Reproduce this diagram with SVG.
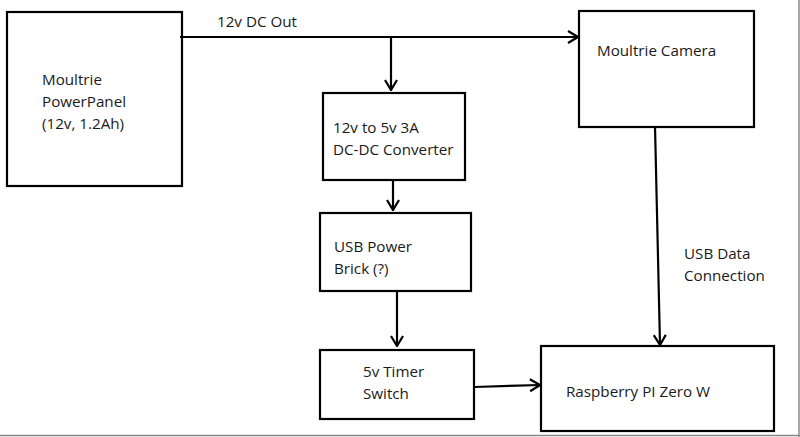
<svg xmlns="http://www.w3.org/2000/svg" width="800" height="437" viewBox="0 0 800 437">
<defs>
<style>
.box{fill:#fff;stroke:#000;stroke-width:2.2}
.t{font-family:"Open Sans","Liberation Sans",sans-serif;font-size:15.2px;fill:#1a1a1a}
.c{fill:none;stroke:#000;stroke-width:2.2}
</style>
<marker id="arr" viewBox="0 0 12 14" refX="11" refY="7" markerWidth="12" markerHeight="14" markerUnits="userSpaceOnUse" orient="auto">
<path d="M1,1 L11,7 L1,13" fill="none" stroke="#000" stroke-width="2.2"/>
</marker>
</defs>
<rect width="800" height="437" fill="#fff"/>
<line x1="0" y1="435.5" x2="800" y2="435.5" stroke="#888" stroke-width="1.5"/>
<line x1="799" y1="0" x2="799" y2="437" stroke="#888" stroke-width="1.5"/>
<g id="powerpanel">
<rect class="box" x="7" y="12" width="175" height="174"/>
<text class="t" x="42" y="85">Moultrie</text>
<text class="t" x="42" y="107">PowerPanel</text>
<text class="t" x="42" y="129">(12v, 1.2Ah)</text>
</g>
<g id="converter">
<rect class="box" x="323" y="93" width="142" height="87"/>
<text class="t" x="333" y="133">12v to 5v 3A</text>
<text class="t" x="333" y="155">DC-DC Converter</text>
</g>
<g id="camera">
<rect class="box" x="579" y="11" width="175" height="116"/>
<text class="t" x="597" y="56">Moultrie Camera</text>
</g>
<g id="usbbrick">
<rect class="box" x="320" y="213" width="151" height="78"/>
<text class="t" x="334" y="252">USB Power</text>
<text class="t" x="334" y="274">Brick (?)</text>
</g>
<g id="timer">
<rect class="box" x="320" y="350" width="154" height="69"/>
<text class="t" x="363" y="377">5v Timer</text>
<text class="t" x="363" y="399">Switch</text>
</g>
<g id="pi">
<rect class="box" x="541" y="346" width="233" height="85"/>
<text class="t" x="566" y="397">Raspberry PI Zero W</text>
</g>
<g id="connectors">
<path class="c" d="M180,37 H578" marker-end="url(#arr)"/>
<path class="c" d="M391,37 V90" marker-end="url(#arr)"/>
<path class="c" d="M393,180 V210" marker-end="url(#arr)"/>
<path class="c" d="M397,291 V346" marker-end="url(#arr)"/>
<path class="c" d="M474,387 L540,385" marker-end="url(#arr)"/>
<path class="c" d="M655,126 L660,345" marker-end="url(#arr)"/>
<text class="t" x="217" y="27">12v DC Out</text>
<text class="t" x="684" y="259">USB Data</text>
<text class="t" x="684" y="281">Connection</text>
</g>
</svg>
